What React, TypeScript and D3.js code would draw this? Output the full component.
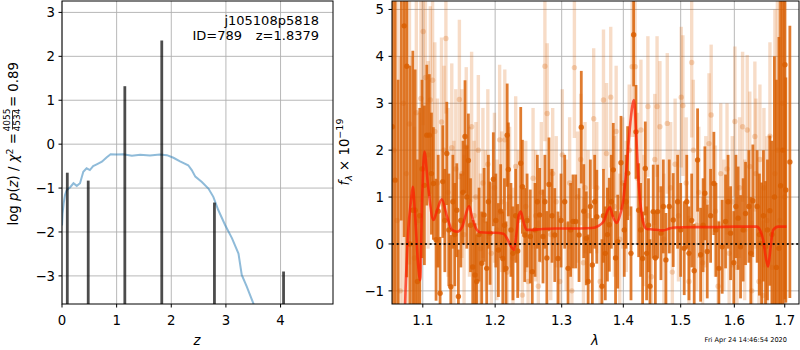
import React from 'react';
import * as d3 from 'd3';

// ---------- Left panel data: log p(z) ----------
const zGrid = [0.0, 0.01, 0.03, 0.055, 0.085, 0.15, 0.21, 0.27, 0.33, 0.39, 0.45, 0.51, 0.57, 0.635, 0.73, 0.82, 0.89, 1.0, 1.12, 1.28, 1.43, 1.61, 1.79, 1.92, 2.04, 2.16, 2.31, 2.375, 2.44, 2.56, 2.68, 2.77, 2.86, 2.985, 3.11, 3.23, 3.29, 3.38, 3.5, 3.6];
const logPz = [-1.85, -1.58, -1.35, -1.16, -1.05, -0.98, -0.89, -0.95, -0.89, -0.63, -0.55, -0.59, -0.5, -0.46, -0.4, -0.3, -0.23, -0.235, -0.23, -0.265, -0.24, -0.26, -0.235, -0.25, -0.31, -0.39, -0.48, -0.59, -0.74, -0.86, -1.01, -1.2, -1.5, -1.84, -2.14, -2.49, -2.98, -3.24, -3.62, -3.95];
const peakZ = [0.097, 0.48, 1.15, 1.826, 2.79, 4.055];
const peakLogP = [-0.65, -0.83, 1.32, 2.36, -1.33, -2.9];
const zTicks = [0, 1, 2, 3, 4];
const lpTicks = [-3, -2, -1, 0, 1, 2, 3];

// ---------- Right panel data: spectrum ----------
const lamTicks = [1.1, 1.2, 1.3, 1.4, 1.5, 1.6, 1.7];
const fluxTicks = [-1, 0, 1, 2, 3, 4, 5];

// [wavelength, flux, error]
const darkPoints: [number, number, number][] = [
  [1.0605, 2.5, 6.0], [1.064, 1.36, 5.5], [1.0678, -1.5, 5.0], [1.0718, 6.0, 5.5], [1.0756, 4.65, 4.5],
  [1.079, 3.79, 4.5], [1.083, 0.0, 3.8], [1.0869, 0.72, 3.4], [1.0899, 0.72, 3.0], [1.0929, -0.8, 2.6],
  [1.096, 0.6, 2.3], [1.099, 1.6, 1.9], [1.1021, 1.25, 1.7], [1.1053, 2.32, 1.5], [1.1087, 2.32, 1.3],
  [1.1115, 1.5, 1.3], [1.1141, 1.29, 1.2], [1.1177, 0.09, 1.3], [1.1205, 0.7, 1.2], [1.1231, -1.05, 1.2],
  [1.1267, 1.33, 1.2], [1.1295, 0.5, 1.1], [1.1322, 1.93, 1.1], [1.135, 0.3, 1.2], [1.1377, -0.91, 1.1],
  [1.1405, 0.9, 1.0], [1.1431, 0.2, 1.1], [1.1459, 0.72, 1.0], [1.1481, -1.12, 1.0], [1.1515, 0.5, 1.0],
  [1.1545, 1.1, 1.1], [1.1573, 2.29, 1.2], [1.1598, 1.0, 1.1], [1.162, 1.78, 1.0], [1.165, 0.4, 1.0],
  [1.1681, -0.49, 1.0], [1.1714, -0.66, 1.1], [1.1737, -0.8, 1.0], [1.177, 0.2, 1.0], [1.1808, -0.41, 1.1],
  [1.1841, 0.62, 1.0], [1.1879, -0.52, 1.0], [1.1903, 0.9, 1.0], [1.1927, 0.23, 1.1], [1.1974, 1.38, 1.0],
  [1.201, 0.5, 1.0], [1.2047, -0.13, 1.0], [1.208, 0.7, 1.0], [1.2111, -0.31, 1.0], [1.2135, 0.4, 1.0],
  [1.2158, -0.52, 1.0], [1.2175, 2.32, 1.1], [1.2192, 1.59, 1.0], [1.223, 0.3, 1.0], [1.226, -0.2, 1.0],
  [1.23, 0.6, 1.0], [1.233, -0.15, 1.0], [1.2375, 1.72, 1.2], [1.24, 1.22, 1.0], [1.2435, 0.19, 1.0],
  [1.247, 0.5, 1.0], [1.2518, 0.16, 1.0], [1.2548, -0.59, 0.9], [1.259, 0.3, 1.0], [1.2625, 0.9, 1.0],
  [1.266, 0.62, 1.0], [1.2711, 0.16, 1.0], [1.274, 0.9, 1.0], [1.277, -0.3, 1.0], [1.2803, 1.27, 1.0],
  [1.285, 0.6, 1.0], [1.2892, 0.19, 1.0], [1.2942, -0.31, 1.0], [1.299, 0.5, 1.0], [1.3047, 0.9, 1.0],
  [1.31, -0.52, 1.0], [1.314, 0.3, 1.0], [1.3178, 0.48, 1.0], [1.3221, 0.48, 1.0], [1.3274, 0.19, 1.0],
  [1.331, 2.49, 1.2], [1.335, 0.7, 1.0], [1.339, 0.12, 1.0], [1.342, -0.8, 1.0], [1.3456, 0.8, 1.0],
  [1.3488, -0.45, 1.0], [1.3526, 0.9, 1.0], [1.356, 0.58, 1.0], [1.3645, -0.9, 1.0], [1.367, 0.6, 1.0],
  [1.37, -0.2, 1.0], [1.3735, 0.2, 1.0], [1.3766, 0.41, 1.0], [1.38, 0.9, 1.0], [1.3832, 1.58, 1.0],
  [1.387, -0.3, 1.0], [1.3906, 0.05, 1.0], [1.3961, 1.73, 1.0], [1.4016, 0.3, 1.0], [1.4045, 0.9, 1.0],
  [1.4073, 1.51, 1.0], [1.413, -0.2, 1.0], [1.4175, 4.46, 1.1], [1.4215, 2.39, 1.0], [1.4261, 0.72, 1.0],
  [1.4295, 0.3, 1.0], [1.4329, -0.31, 1.0], [1.4375, 1.61, 1.0], [1.4398, -0.2, 1.0], [1.443, 0.4, 1.0],
  [1.4456, -0.9, 1.0], [1.4513, 0.69, 1.0], [1.455, -0.3, 1.0], [1.459, 0.69, 1.0], [1.4648, 0.23, 1.0],
  [1.469, 0.8, 1.0], [1.4736, -0.34, 1.0], [1.4795, 0.8, 1.0], [1.4866, 0.51, 1.0], [1.4945, 0.9, 1.0],
  [1.5, 0.3, 1.0], [1.5064, -0.09, 1.0], [1.511, 0.9, 1.0], [1.515, -0.2, 1.0], [1.52, 0.5, 1.0],
  [1.5246, -0.57, 1.0], [1.5308, 1.79, 1.1], [1.5364, -0.23, 1.0], [1.541, 0.4, 1.0], [1.5443, 1.08, 1.0],
  [1.5487, -0.16, 1.0], [1.555, 0.6, 1.0], [1.5611, 1.29, 1.1], [1.565, 0.3, 1.0], [1.5705, -0.52, 1.0],
  [1.5768, -0.06, 1.0], [1.5832, 0.48, 1.0], [1.588, 0.9, 1.0], [1.5928, 0.23, 1.0], [1.599, -0.4, 1.1],
  [1.603, 0.8, 1.1], [1.6073, 0.55, 1.1], [1.612, -0.06, 1.1], [1.617, 0.3, 1.1], [1.6217, 0.65, 1.1],
  [1.6282, 0.8, 1.2], [1.632, -0.2, 1.2], [1.636, 0.92, 1.2], [1.6445, 0.8, 1.2], [1.649, 0.2, 1.3],
  [1.6533, 0.01, 1.3], [1.657, 0.6, 1.4], [1.6612, -0.06, 1.4], [1.665, 0.3, 1.5], [1.6698, 0.71, 1.6],
  [1.674, 0.2, 2.0], [1.679, 1.0, 3.0], [1.683, -0.5, 4.0], [1.6881, -0.09, 4.5], [1.6915, 1.24, 5.0],
  [1.696, 2.0, 5.5], [1.7003, 3.82, 5.0], [1.7022, 1.15, 2.4], [1.7105, 1.75, 2.9],
];

const lightPoints: [number, number, number][] = [
  [1.0625, 2.0, 5.0], [1.0665, 0.5, 5.0], [1.0705, -1.0, 5.0], [1.0745, 3.0, 5.0], [1.0785, 1.5, 4.0],
  [1.0825, 2.56, 3.0], [1.086, 1.0, 3.0], [1.089, -0.3, 2.8], [1.0915, 2.8, 2.4], [1.095, 0.5, 2.3],
  [1.0975, 3.1, 2.2], [1.1005, 4.53, 2.0], [1.1035, 3.55, 2.0], [1.107, 1.9, 2.0], [1.11, 3.07, 2.0],
  [1.113, 3.49, 1.9], [1.116, 2.4, 1.9], [1.1195, 1.3, 1.8], [1.125, 2.6, 1.8], [1.1285, 2.0, 1.8],
  [1.131, 4.38, 1.6], [1.134, 1.1, 1.8], [1.139, 2.05, 1.8], [1.142, 0.4, 1.8], [1.1445, 1.6, 1.7],
  [1.1495, 3.08, 1.7], [1.153, 1.5, 1.8], [1.156, 0.2, 1.7], [1.159, 2.07, 1.7], [1.1635, 0.9, 1.6],
  [1.1665, 2.5, 1.6], [1.17, 0.6, 1.6], [1.1725, 1.0, 1.6], [1.176, 2.0, 1.6], [1.179, -0.1, 1.6],
  [1.1825, 1.3, 1.6], [1.186, 0.5, 1.5], [1.1895, 1.7, 1.6], [1.1945, -0.2, 1.5], [1.199, 1.2, 1.6],
  [1.2025, 0.3, 1.5], [1.2065, 2.22, 1.6], [1.2095, 0.9, 1.5], [1.214, 2.22, 1.5], [1.2175, -0.6, 1.5],
  [1.221, 1.0, 1.5], [1.226, -0.3, 1.5], [1.23, 1.65, 1.5], [1.234, 0.5, 1.5], [1.24, -1.09, 1.5],
  [1.245, 0.8, 1.4], [1.2485, -0.8, 1.4], [1.256, 1.4, 1.5], [1.26, 0.6, 1.4], [1.264, -0.9, 1.4],
  [1.2685, 1.1, 1.5], [1.274, 3.79, 1.6], [1.2775, 2.78, 1.5], [1.283, 0.2, 1.4], [1.286, 1.5, 1.4],
  [1.2915, 0.9, 1.4], [1.297, -0.8, 1.4], [1.301, 1.9, 1.4], [1.307, 0.4, 1.4], [1.3125, 1.3, 1.4],
  [1.316, -1.0, 1.4], [1.32, 3.76, 1.5], [1.325, 1.0, 1.4], [1.33, 1.8, 1.4], [1.3345, -0.4, 1.4],
  [1.337, 1.2, 1.4], [1.342, 0.6, 1.4], [1.351, 2.67, 1.5], [1.356, 1.2, 1.4], [1.3615, -0.8, 1.4],
  [1.367, 3.07, 1.5], [1.372, 1.93, 1.5], [1.379, 3.13, 1.5], [1.385, 0.8, 1.5], [1.388, 2.4, 1.4],
  [1.394, 0.1, 1.4], [1.399, 1.3, 1.4], [1.405, 0.8, 1.4], [1.41, 2.0, 1.4], [1.415, 3.78, 1.5],
  [1.42, 3.78, 1.5], [1.424, 1.4, 1.4], [1.43, 2.43, 1.5], [1.435, 0.5, 1.4], [1.442, 2.93, 1.5],
  [1.448, -0.7, 1.4], [1.454, 1.8, 1.4], [1.458, 2.93, 1.5], [1.463, 2.5, 1.4], [1.47, 0.1, 1.4],
  [1.476, 2.57, 1.5], [1.482, 1.2, 1.4], [1.485, -0.6, 1.4], [1.49, 1.7, 1.4], [1.496, 0.6, 1.4],
  [1.501, 3.13, 1.5], [1.504, 2.95, 1.5], [1.51, 1.3, 1.4], [1.515, -0.8, 1.4], [1.52, 3.87, 1.6],
  [1.523, 2.0, 1.5], [1.529, 0.4, 1.4], [1.533, 1.1, 1.4], [1.54, -0.4, 1.4], [1.546, 0.9, 1.4],
  [1.552, 2.14, 1.5], [1.556, 2.75, 1.5], [1.564, 0.7, 1.4], [1.569, -0.9, 1.4], [1.574, 1.5, 1.5],
  [1.58, 0.4, 1.4], [1.586, 1.6, 1.4], [1.59, -0.2, 1.4], [1.596, 0.9, 1.4], [1.601, 2.61, 1.6],
  [1.605, -0.5, 1.5], [1.61, 1.2, 1.5], [1.616, 2.5, 1.6], [1.62, 0.3, 1.5], [1.625, 2.43, 1.6],
  [1.63, 1.65, 1.6], [1.634, -1.0, 1.5], [1.64, 2.29, 1.6], [1.642, 1.5, 1.6], [1.648, -0.8, 1.6],
  [1.65, 1.8, 1.6], [1.656, -1.1, 1.6], [1.658, 1.2, 1.7], [1.664, 0.5, 1.8], [1.67, 2.3, 2.0],
  [1.675, -0.5, 2.5], [1.68, 1.5, 3.5], [1.685, 2.0, 4.5], [1.69, 0.5, 5.0], [1.695, 3.0, 5.0],
  [1.7, 1.0, 5.0],
];

const modelWave = [1.074, 1.0768, 1.0807, 1.0847, 1.0869, 1.0899, 1.0939, 1.0965, 1.0991, 1.1021, 1.1071, 1.1141, 1.1191, 1.1253, 1.1326, 1.1394, 1.1463, 1.1532, 1.1602, 1.163, 1.1672, 1.1728, 1.1784, 1.19, 1.2, 1.212, 1.218, 1.223, 1.2275, 1.231, 1.2345, 1.2375, 1.242, 1.2465, 1.255, 1.27, 1.29, 1.31, 1.33, 1.348, 1.358, 1.368, 1.374, 1.3777, 1.382, 1.3889, 1.393, 1.4, 1.406, 1.412, 1.418, 1.422, 1.426, 1.4311, 1.436, 1.44, 1.45, 1.469, 1.48, 1.49, 1.52, 1.56, 1.6, 1.63, 1.6435, 1.65, 1.6565, 1.662, 1.6664, 1.671, 1.6765, 1.6866, 1.7036];
const modelFlux = [-3.0, -1.3, 0.23, 0.95, 1.22, 0.6, -0.45, -0.77, 0.95, 1.97, 1.22, 0.51, 0.72, 0.95, 0.58, 0.3, 0.26, 0.36, 0.72, 0.81, 0.58, 0.33, 0.25, 0.24, 0.24, 0.22, 0.1, -0.05, -0.13, 0.2, 0.6, 0.69, 0.45, 0.3, 0.3, 0.32, 0.33, 0.33, 0.33, 0.34, 0.38, 0.5, 0.72, 0.78, 0.6, 0.45, 0.55, 0.94, 1.7, 2.6, 3.07, 2.3, 1.3, 0.65, 0.38, 0.32, 0.31, 0.29, 0.33, 0.35, 0.36, 0.36, 0.37, 0.37, 0.37, 0.3, 0.08, -0.3, -0.48, -0.1, 0.3, 0.37, 0.37];

const FONT = 'DejaVu Sans, sans-serif';
const ORANGE = '#d95f02';
const GRID = '#b0b0b0';

export default function App() {
  const L = { x0: 62, x1: 333, y0: 1, y1: 304 };
  const R = { x0: 392, x1: 799, y0: 1, y1: 304 };

  const xL = d3.scaleLinear().domain([0, 4.96]).range([L.x0, L.x1]);
  const yL = d3.scaleLinear().domain([-3.64, 3.26]).range([L.y1, L.y0]);
  const xR = d3.scaleLog().domain([1.06, 1.7294]).range([R.x0, R.x1]);
  const yR = d3.scaleLinear().domain([-1.28, 5.18]).range([R.y1, R.y0]);

  const pzLine = d3.line<number>().x((_, i) => xL(zGrid[i])).y((d) => yL(d))(logPz) || '';
  const modelLine = d3
    .line<number>()
    .x((_, i) => xR(modelWave[i]))
    .y((d) => yR(d))
    .curve(d3.curveMonotoneX)(modelFlux) || '';

  const fmt = (v: number) => (v < 0 ? '\u2212' + Math.abs(v) : String(v));
  const fmtLam = (v: number) => v.toFixed(1);

  return (
    <svg width={800} height={350} style={{ position: 'absolute', left: 0, top: 0, background: '#fff' }} fontFamily={FONT}>
      <defs>
        <clipPath id="clipL"><rect x={L.x0} y={L.y0} width={L.x1 - L.x0} height={L.y1 - L.y0} /></clipPath>
        <clipPath id="clipR"><rect x={R.x0} y={R.y0} width={R.x1 - R.x0} height={R.y1 - R.y0} /></clipPath>
      </defs>
      <rect x={0} y={0} width={800} height={350} fill="#fff" />

      {/* ---------- LEFT PANEL ---------- */}
      <g>
        {zTicks.map((t) => (
          <line key={'gzx' + t} x1={xL(t)} x2={xL(t)} y1={L.y0} y2={L.y1} stroke={GRID} strokeWidth={0.9} />
        ))}
        {lpTicks.map((t) => (
          <line key={'gzy' + t} x1={L.x0} x2={L.x1} y1={yL(t)} y2={yL(t)} stroke={GRID} strokeWidth={0.9} />
        ))}
        <g clipPath="url(#clipL)">
          <path d={pzLine} fill="none" stroke="#1f77b4" strokeOpacity={0.5} strokeWidth={2} />
          {peakZ.map((z, i) => (
            <line key={'pk' + i} x1={xL(z)} x2={xL(z)} y1={L.y1 + 2} y2={yL(peakLogP[i])} stroke="#000" strokeOpacity={0.7} strokeWidth={2.8} />
          ))}
        </g>
        <rect x={L.x0} y={L.y0} width={L.x1 - L.x0} height={L.y1 - L.y0} fill="none" stroke="#000" strokeWidth={1} />
        {zTicks.map((t) => (
          <g key={'tzx' + t}>
            <line x1={xL(t)} x2={xL(t)} y1={L.y1} y2={L.y1 + 3.5} stroke="#000" />
            <text x={xL(t)} y={325} fontSize={13.3} textAnchor="middle">{fmt(t)}</text>
          </g>
        ))}
        {lpTicks.map((t) => (
          <g key={'tzy' + t}>
            <line x1={L.x0 - 3.5} x2={L.x0} y1={yL(t)} y2={yL(t)} stroke="#000" />
            <text x={55} y={yL(t) + 4.8} fontSize={13.3} textAnchor="end">{fmt(t)}</text>
          </g>
        ))}
        <text x={319} y={24.5} fontSize={13} textAnchor="end">j105108p5818</text>
        <text x={242} y={39.5} fontSize={13} textAnchor="end">ID=789</text>
        <text x={319} y={39.5} fontSize={13} textAnchor="end">z=1.8379</text>
        <text x={197} y={345} fontSize={13.3} textAnchor="middle" fontStyle="italic">z</text>
        <g transform="translate(18,153) rotate(-90)">
          <text x={20} y={0} fontSize={13.3} textAnchor="end">
            log <tspan fontStyle="italic">p</tspan>(<tspan fontStyle="italic">z</tspan>) / <tspan fontStyle="italic">χ</tspan>
            <tspan fontSize={9.5} dy={-5}>2</tspan>
            <tspan dy={5}> =</tspan>
          </text>
          <text x={33} y={-8} fontSize={9} textAnchor="middle">4055</text>
          <line x1={23.5} x2={42.5} y1={-5.5} y2={-5.5} stroke="#000" strokeWidth={0.8} />
          <text x={33} y={2} fontSize={9} textAnchor="middle">4534</text>
          <text x={46} y={0} fontSize={13.3} textAnchor="start">= 0.89</text>
        </g>
      </g>

      {/* ---------- RIGHT PANEL ---------- */}
      <g>
        {lamTicks.map((t) => (
          <line key={'glx' + t} x1={xR(t)} x2={xR(t)} y1={R.y0} y2={R.y1} stroke={GRID} strokeWidth={0.9} />
        ))}
        {fluxTicks.map((t) => (
          <line key={'gly' + t} x1={R.x0} x2={R.x1} y1={yR(t)} y2={yR(t)} stroke={GRID} strokeWidth={0.9} />
        ))}
        <g clipPath="url(#clipR)">
          {lightPoints.map(([w, f, e], i) => (
            <line key={'le' + i} x1={xR(w)} x2={xR(w)} y1={yR(f - e)} y2={yR(f + e)} stroke={ORANGE} strokeOpacity={0.22} strokeWidth={3.4} />
          ))}
          {lightPoints.map(([w, f], i) => (
            <circle key={'lp' + i} cx={xR(w)} cy={yR(f)} r={2.7} fill={ORANGE} fillOpacity={0.25} />
          ))}
          {darkPoints.map(([w, f, e], i) => (
            <line key={'de' + i} x1={xR(w)} x2={xR(w)} y1={yR(f - e)} y2={yR(f + e)} stroke={ORANGE} strokeOpacity={0.82} strokeWidth={2.8} />
          ))}
          {darkPoints.map(([w, f], i) => (
            <circle key={'dp' + i} cx={xR(w)} cy={yR(f)} r={2.7} fill={ORANGE} fillOpacity={0.85} />
          ))}
          <path d={modelLine} fill="none" stroke="#ff1a00" strokeOpacity={0.7} strokeWidth={2.6} />
          <line x1={R.x0} x2={R.x1} y1={yR(0)} y2={yR(0)} stroke="#000" strokeWidth={2} strokeDasharray="2,2.7" strokeOpacity={0.85} />
        </g>
        <rect x={R.x0} y={R.y0} width={R.x1 - R.x0} height={R.y1 - R.y0} fill="none" stroke="#000" strokeWidth={1} />
        {lamTicks.map((t) => (
          <g key={'tlx' + t}>
            <line x1={xR(t)} x2={xR(t)} y1={R.y1} y2={R.y1 + 3.5} stroke="#000" />
            <text x={xR(t)} y={325} fontSize={13.3} textAnchor="middle">{fmtLam(t)}</text>
          </g>
        ))}
        {fluxTicks.map((t) => (
          <g key={'tly' + t}>
            <line x1={R.x0 - 3.5} x2={R.x0} y1={yR(t)} y2={yR(t)} stroke="#000" />
            <text x={384} y={yR(t) + 4.8} fontSize={13.3} textAnchor="end">{fmt(t)}</text>
          </g>
        ))}
        <text x={595} y={345} fontSize={13.3} textAnchor="middle" fontStyle="italic">λ</text>
        <g transform="translate(349,152) rotate(-90)">
          <text x={0} y={0} fontSize={13.3} textAnchor="middle">
            <tspan fontStyle="italic">f</tspan>
            <tspan fontSize={9.5} dy={3} fontStyle="italic">λ</tspan>
            <tspan dy={-3}> × 10</tspan>
            <tspan fontSize={9.5} dy={-6}>−19</tspan>
          </text>
        </g>
        <text x={787} y={341.5} fontSize={6.6} textAnchor="end">Fri Apr 24 14:46:54 2020</text>
      </g>
    </svg>
  );
}
